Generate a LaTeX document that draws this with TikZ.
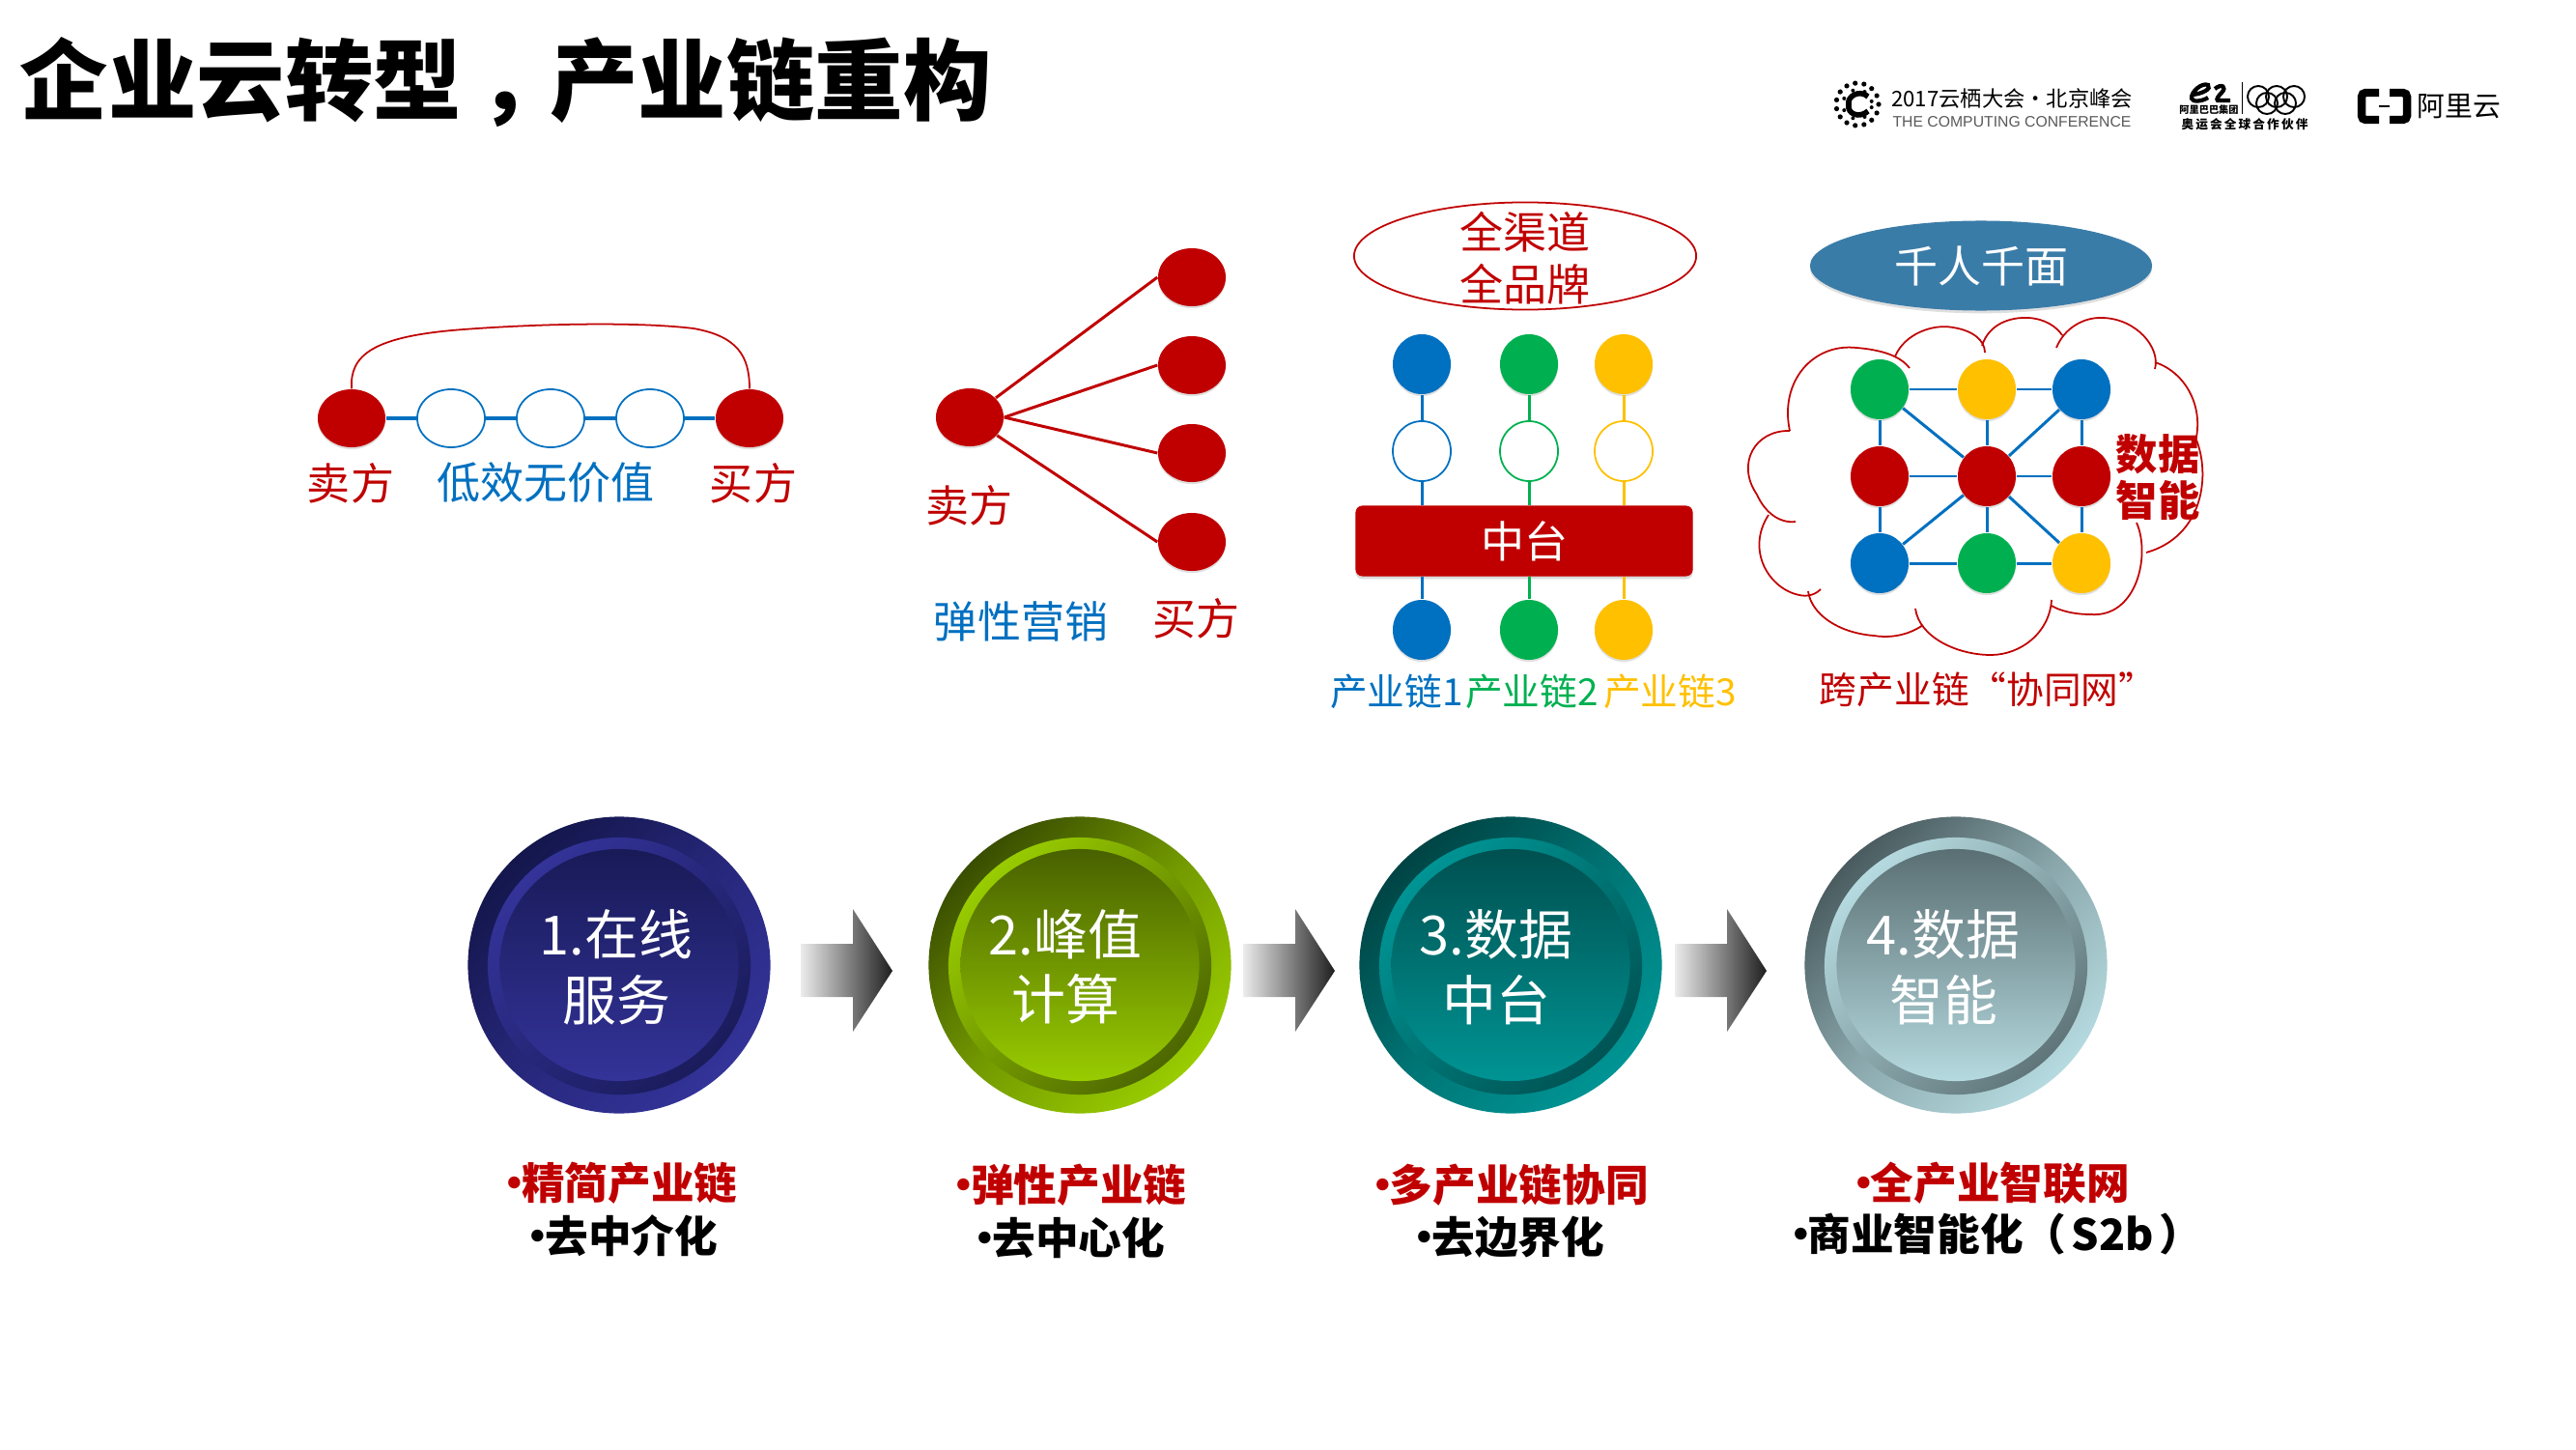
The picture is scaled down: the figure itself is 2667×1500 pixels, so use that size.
\documentclass[tikz,border=0pt]{standalone}
\usepackage{fontspec}
\setmainfont{Noto Sans CJK SC}
\newfontfamily\confont{Liberation Sans}
\usetikzlibrary{positioning,shapes.geometric,shadows}

\definecolor{chainred}{HTML}{C00000}
\definecolor{chainblue}{HTML}{0070C0}
\definecolor{chaingreen}{HTML}{00B050}
\definecolor{chainyellow}{HTML}{FFC000}
\definecolor{faceblue}{HTML}{3A7CA8}
\definecolor{navydk}{HTML}{14164C}
\definecolor{navylt}{HTML}{333399}
\definecolor{limedk}{HTML}{3A4E00}
\definecolor{limelt}{HTML}{99CC00}
\definecolor{tealdk}{HTML}{004444}
\definecolor{teallt}{HTML}{009494}
\definecolor{mistdk}{HTML}{4A5C60}
\definecolor{mistlt}{HTML}{B5DADF}
\newcommand{\bul}{•\kern-0.34em}

\begin{document}
\begin{tikzpicture}[
    x=0.01cm,y=-0.01cm,
    dot/.style={ellipse,inner sep=0pt,minimum width=0.6cm,minimum height=0.62cm,
                drop shadow={shadow xshift=0pt,shadow yshift=-0.6pt,opacity=.25}},
    reddot/.style={dot,fill=chainred,minimum width=0.7cm,minimum height=0.6cm},
    hollow/.style={ellipse,draw=chainblue,fill=white,inner sep=0pt,line width=0.5pt,
                   minimum width=0.7cm,minimum height=0.6cm},
    ringdot/.style={ellipse,draw=#1,fill=white,inner sep=0pt,line width=0.5pt,
                    minimum width=0.6cm,minimum height=0.62cm},
    link/.style={line width=0.85pt},
    lbl/.style={font=\fontsize{12.8}{15}\selectfont,inner sep=0pt},
    sublbl/.style={font=\fontsize{11}{13}\selectfont,inner sep=0pt},
    balltxt/.style={font=\fontsize{15.9}{19.2}\selectfont,text=white,align=center,inner sep=0pt},
    boldtxt/.style={font=\fontsize{12.7}{15}\selectfont\bfseries,inner sep=0pt},
    flowarrow/.style={left color=gray!15,middle color=gray!65,right color=black!88},
]

\useasboundingbox (0,0) rectangle (2667,1500);

% ---- Title ---------------------------------------------------------------
\node[anchor=west,inner sep=0pt,font=\fontsize{26}{30}\selectfont\bfseries]
    (title) at (20,85) {企业云转型\kern.19em，\kern-.19em 产业链重构};

% ---- Conference logos ----------------------------------------------------
\foreach \a in {0,24,...,336}{\fill (1923,108) ++(\a:22) circle[radius=2.6];}
\foreach \a in {12,60,...,348}{\fill (1923,108) ++(\a:15) circle[radius=2];}
\draw[line width=1.6pt] (1934,100) .. controls (1925,92) and (1912,100) .. (1914,108)
    .. controls (1912,118) and (1925,123) .. (1934,115);
\node[inner sep=0pt,font=\fontsize{6.33}{8}\selectfont] (conf) at (2083,102) {2017云栖大会·北京峰会};
\node[inner sep=0pt,text=black!65,font=\fontsize{4.48}{6}\selectfont\confont] (confen) at (2083,126)
    {THE COMPUTING CONFERENCE};
\draw[line width=1.2pt] (2270,98) .. controls (2280,97) and (2290,92) .. (2286,88)
    .. controls (2280,85) and (2268,95) .. (2269,102) .. controls (2270,106) and (2280,105) .. (2286,101);
\draw[line width=1.2pt] (2293,92) .. controls (2300,86) and (2306,90) .. (2300,96)
    .. controls (2297,99) and (2294,103) .. (2296,104) -- (2309,104);
\node[inner sep=0pt,font=\fontsize{2.9}{4}\selectfont\bfseries] (ali) at (2287,114) {阿里巴巴集团};
\node[inner sep=0pt,font=\fontsize{3.6}{5}\selectfont\bfseries] (aliol) at (2324,129)
    {奥\,运\,会\,全\,球\,合\,作\,伙\,伴};
\draw[line width=0.3pt] (2321,85) -- (2321,118);
\foreach \x/\y/\nm in {2338/100/ringa,2357/100/ringb,2375/100/ringc,2347/107/ringd,2366/107/ringe}
{
    \node[circle,draw,inner sep=0pt,minimum size=0.22cm,line width=0.55pt] (\nm) at (\x,\y) {};
}
\draw[line width=2.4pt,rounded corners=1.2pt] (2463,96) -- (2445,96) -- (2445,124) -- (2463,124);
\draw[line width=2.4pt,rounded corners=1.2pt] (2474,96) -- (2492,96) -- (2492,124) -- (2474,124);
\draw[line width=0.5pt] (2463,110) -- (2474,110);
\node[inner sep=0pt,font=\fontsize{8.2}{9}\selectfont] (aliyun) at (2546,110) {阿里云};

% ---- Chain: seller to buyer ----------------------------------------------
\node[reddot] (sell) at (364,433) {};
\node[hollow] (waste1) at (467,433) {};
\node[hollow] (waste2) at (570,433) {};
\node[hollow] (waste3) at (673,433) {};
\node[reddot] (buy) at (776,433) {};
\draw[chainblue,line width=1.1pt] (sell) -- (waste1);
\draw[chainblue,line width=1.1pt] (waste1) -- (waste2);
\draw[chainblue,line width=1.1pt] (waste2) -- (waste3);
\draw[chainblue,line width=1.1pt] (waste3) -- (buy);
\draw[chainred,line width=0.5pt] (sell.north) .. controls (362,368) and (385,348) .. (480,341)
    .. controls (560,335) and (660,333) .. (718,340) .. controls (763,348) and (776,368) .. (buy.north);
\node[lbl,text=chainred] (selllbl) at (363,500) {卖方};
\node[lbl,text=chainblue] (wastelbl) at (565,500) {低效无价值};
\node[lbl,text=chainred] (buylbl) at (780,500) {买方};

% ---- Fan: seller to many buyers ------------------------------------------
\node[reddot] (src) at (1004,432) {};
\foreach \y/\nm in {287/fana,378/fanb,469/fanc,561/fand}
{
    \node[reddot] (\nm) at (1234,\y) {};
}
\draw[chainred,link] (src) -- (fana.west);
\draw[chainred,link] (src.east) -- (fanb.west);
\draw[chainred,link] (src.east) -- (fanc.west);
\draw[chainred,link] (src) -- (fand.west);
\node[lbl,text=chainred] (srclbl) at (1003,523) {卖方};
\node[lbl,text=chainblue] (fanlbl) at (1057,643) {弹性营销};
\node[lbl,text=chainred] (fanbuy) at (1238,640) {买方};

% ---- Middle platform -----------------------------------------------------
\node[ellipse,draw=chainred,fill=white,line width=0.5pt,inner sep=0pt,minimum width=3.54cm,
      minimum height=1.11cm] (omni) at (1579,265) {};
\node[text=chainred,align=center,inner sep=0pt,font=\fontsize{12.8}{15.4}\selectfont]
    (omnitxt) at (1579,267) {全渠道\\全品牌};
\node[fill=chainred,rounded corners=2pt,inner sep=0pt,minimum width=3.49cm,minimum height=0.73cm,
      text=white,font=\fontsize{12.8}{15}\selectfont,
      drop shadow={shadow xshift=0pt,shadow yshift=-0.8pt,opacity=.3}] (mid) at (1578,560) {中台};
\foreach \x/\col/\nm in {1472/chainblue/a,1583/chaingreen/b,1681/chainyellow/c}
{
    \node[dot,fill=\col] (top\nm) at (\x,377) {};
    \node[ringdot=\col] (hol\nm) at (\x,467) {};
    \node[dot,fill=\col] (bot\nm) at (\x,652) {};
    \draw[\col,link] (top\nm) -- (hol\nm);
    \draw[\col,link] (hol\nm) -- (hol\nm |- mid.north);
    \draw[\col,link] (bot\nm |- mid.south) -- (bot\nm);
}
\node[sublbl,text=chainblue] (labela) at (1446,716) {产业链1};
\node[sublbl,text=chaingreen] (labelb) at (1586,716) {产业链2};
\node[sublbl,text=chainyellow] (labelc) at (1729,716) {产业链3};

% ---- Cloud network -------------------------------------------------------
\node[ellipse,fill=faceblue,inner sep=0pt,minimum width=3.54cm,minimum height=0.93cm,
      text=white,font=\fontsize{12.8}{15}\selectfont,
      drop shadow={shadow xshift=0pt,shadow yshift=-0.8pt,opacity=.25}] (face) at (2051,275) {千人千面};
\draw[chainred,line width=0.5pt,xshift=-0.03cm]
    (1856,446) .. controls (1845,395) and (1880,355) .. (1925,360) .. controls (1950,362) and (1970,368) .. (1980,381)
    (1965,369) .. controls (1975,345) and (2005,335) .. (2025,339) .. controls (2045,342) and (2058,352) .. (2058,365)
    (2055,358) .. controls (2062,335) and (2085,328) .. (2103,329) .. controls (2120,330) and (2132,338) .. (2138,347)
    (2132,360) .. controls (2140,340) and (2160,328) .. (2180,329) .. controls (2215,330) and (2240,360) .. (2234,382)
    (2234,375) .. controls (2265,385) and (2285,420) .. (2276,457)
    (2276,453) .. controls (2292,490) and (2285,555) .. (2225,572)
    (2215,541) .. controls (2230,575) and (2215,640) .. (2167,636) .. controls (2150,636) and (2135,632) .. (2127,627)
    (2127,621) .. controls (2125,655) and (2095,678) .. (2064,678) .. controls (2030,678) and (1990,660) .. (1986,630)
    (1994,647) .. controls (1975,660) and (1955,660) .. (1943,658) .. controls (1905,655) and (1878,635) .. (1875,612)
    (1888,610) .. controls (1880,618) and (1870,617) .. (1866,616) .. controls (1835,610) and (1810,570) .. (1834,533)
    (1862,540) .. controls (1845,542) and (1830,530) .. (1822,512) .. controls (1800,480) and (1820,445) .. (1856,446);
\foreach \x/\y/\col/\nm in {1946/403/chaingreen/na,2057/403/chainyellow/nb,2155/403/chainblue/nc,
                            1946/493/chainred/nd,2057/493/chainred/ne,2155/493/chainred/nf,
                            1946/583/chainblue/ng,2057/583/chaingreen/nh,2155/583/chainyellow/ni}
{
    \node[dot,fill=\col] (\nm) at (\x,\y) {};
}
\foreach \from/\to in {na/nb,nb/nc,nd/ne,ne/nf,ng/nh,nh/ni,na/nd,nd/ng,nb/ne,ne/nh,nc/nf,nf/ni,
                       na/ne,nc/ne,ng/ne,ni/ne}
{
    \draw[chainblue,link] (\from) -- (\to);
}
\node[text=chainred,align=center,inner sep=0pt,font=\fontsize{12.3}{13.9}\selectfont\bfseries]
    (smart) at (2234,494) {数据\\智能};
\node[sublbl,text=chainred] (cross) at (2058,714) {跨产业链“协同网”};

% ---- Four stages ---------------------------------------------------------
\foreach \cx/\tx/\dk/\lt/\nm/\top/\sub in {
    641/638/navydk/navylt/one/1.在线/服务,
    1118/1103/limedk/limelt/two/2.峰值/计算,
    1564/1549/tealdk/teallt/three/3.数据/中台,
    2025/2012/mistdk/mistlt/four/4.数据/智能}
{
    \node[ellipse,inner sep=0pt,minimum width=3.13cm,minimum height=3.07cm,
          top color=\dk,bottom color=\lt,middle color=\lt!60!\dk,shading angle=45] (ball\nm) at (\cx,999) {};
    \node[ellipse,inner sep=0pt,minimum width=2.72cm,minimum height=2.66cm,
          top color=\lt,bottom color=\dk!80!\lt,shading angle=45] (ring\nm) at (\cx,1000) {};
    \node[ellipse,inner sep=0pt,minimum width=2.47cm,minimum height=2.40cm,
          top color=\dk!85!\lt,bottom color=\lt,shading angle=0] (core\nm) at (\cx,999) {};
    \node[balltxt] (txt\nm) at (\tx,1001) {\top\\\sub};
}
\foreach \x in {829,1287,1734}
{
    \shade[flowarrow,shift={(\x,0)}] (0,977) -- (54,977) -- (54,941) -- (95,1005)
        -- (54,1068) -- (54,1032) -- (0,1032) -- cycle;
}

% ---- Stage captions ------------------------------------------------------
\node[boldtxt,text=chainred] (capa) at (637,1225) {\bul 精简产业链};
\node[boldtxt] (capb) at (639,1279) {\bul 去中介化};
\node[boldtxt,text=chainred] (capc) at (1102,1227) {\bul 弹性产业链};
\node[boldtxt] (capd) at (1102,1281) {\bul 去中心化};
\node[boldtxt,text=chainred] (cape) at (1558,1227) {\bul 多产业链协同};
\node[boldtxt] (capf) at (1557,1281) {\bul 去边界化};
\node[boldtxt,text=chainred] (capg) at (2056,1225) {\bul 全产业智联网};
\node[boldtxt] (caph) at (2061,1278) {\bul 商业智能化（\kern.12em S2b\kern.12em）};

\end{tikzpicture}
\end{document}
